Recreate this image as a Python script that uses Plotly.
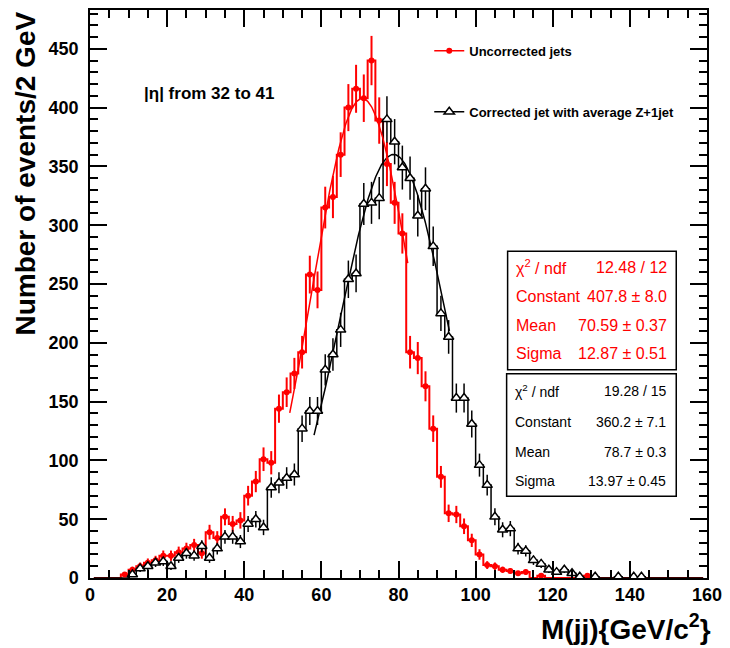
import numpy as np
import plotly.graph_objects as go

# Dijet invariant mass, 2 GeV bins from 0 to 160 GeV (values at bin centres)
bin_width = 2.0
mjj_centres = np.arange(1, 160, 2)

uncorrected_counts = [
    0, 0, 0, 0, 3,
    7, 10, 13, 15, 19,
    19, 22, 25, 28, 21,
    39, 34, 52, 46, 49,
    70, 82, 101, 98, 144,
    158, 174, 192, 258, 245,
    315, 324, 360, 400, 416,
    408, 440, 389, 352, 319,
    293, 192, 187, 163, 127,
    86, 55, 54, 44, 32,
    20, 11, 10, 7, 6,
    4, 5, 0, 2, 0,
    0, 0, 0, 0, 2,
    0, 0, 0, 0, 0,
    0, 0, 0, 0, 0,
    0, 0, 0, 0, 0,
]

corrected_counts = [
    0, 0, 0, 0, 0,
    3, 8, 10, 13, 14,
    10, 17, 21, 19, 27,
    17, 25, 35, 35, 31,
    46, 50, 43, 77, 81,
    85, 88, 127, 142, 142,
    177, 190, 211, 254, 259,
    318, 319, 323, 390, 371,
    349, 340, 308, 331, 282,
    225, 205, 153, 153, 131,
    96, 79, 52, 41, 42,
    25, 23, 15, 12, 7,
    5, 7, 4, 1, 0,
    1, 0, 0, 1, 0,
    1, 1, 0, 0, 0,
    0, 0, 0, 0, 0,
]

# Gaussian fit results (constant, mean, sigma) and fitted ranges
uncorrected_fit = {"constant": 407.8, "mean": 70.59, "sigma": 12.87, "range": (51.8, 82.4)}
corrected_fit = {"constant": 360.2, "mean": 78.7, "sigma": 13.97, "range": (58.1, 93.2)}

uncorrected_stats = [("χ<sup>2</sup> / ndf", "12.48 / 12"),
                     ("Constant", "407.8 ± 8.0"),
                     ("Mean", "70.59 ± 0.37"),
                     ("Sigma", "12.87 ± 0.51")]
corrected_stats = [("χ<sup>2</sup> / ndf", "19.28 / 15"),
                   ("Constant", "360.2 ± 7.1"),
                   ("Mean", "78.7 ± 0.3"),
                   ("Sigma", "13.97 ± 0.45")]

RED = "#ff0000"
BLACK = "#000000"
FONT = "Liberation Sans, Arial, Helvetica, sans-serif"

# frame geometry in pixels
W, H = 730, 648
ML, MR, MT, MB = 90, 18, 8, 70
PW, PH = W - ML - MR, H - MT - MB


def px_x(p):
    return (p - ML) / PW


def px_y(p):
    return (H - MB - p) / PH


def gauss_curve(fit):
    x = np.linspace(fit["range"][0], fit["range"][1], 200)
    y = fit["constant"] * np.exp(-0.5 * ((x - fit["mean"]) / fit["sigma"]) ** 2)
    return x, y


fig = go.Figure()

u = np.asarray(uncorrected_counts, dtype=float)
c = np.asarray(corrected_counts, dtype=float)

# histogram outlines
for counts, colour, lw in ((u, RED, 2), (c, BLACK, 1.5)):
    fig.add_trace(go.Scatter(x=mjj_centres, y=counts, mode="lines",
                             line=dict(color=colour, width=lw, shape="hvh"),
                             showlegend=False, hoverinfo="skip"))

# Gaussian fits
for fit, colour in ((uncorrected_fit, RED), (corrected_fit, BLACK)):
    fx, fy = gauss_curve(fit)
    fig.add_trace(go.Scatter(x=fx, y=fy, mode="lines", line=dict(color=colour, width=1.5),
                             showlegend=False, hoverinfo="skip"))

# points with Poisson errors (non-empty bins only)
mu = u > 0
fig.add_trace(go.Scatter(x=mjj_centres[mu], y=u[mu], mode="markers",
                         marker=dict(symbol="circle", size=6, color=RED),
                         error_y=dict(type="data", array=np.sqrt(u[mu]), width=0,
                                      thickness=2, color=RED),
                         showlegend=False))
mc = c > 0
fig.add_trace(go.Scatter(x=mjj_centres[mc], y=c[mc], mode="markers",
                         marker=dict(symbol="triangle-up", size=9, color="white",
                                     line=dict(color=BLACK, width=1.5)),
                         error_y=dict(type="data", array=np.sqrt(c[mc]), width=0,
                                      thickness=1.5, color=BLACK),
                         showlegend=False))

# legend entries
fig.add_trace(go.Scatter(x=[None], y=[None], mode="lines+markers", name="Uncorrected jets",
                         line=dict(color=RED, width=1.5),
                         marker=dict(symbol="circle", size=6, color=RED),
                         legendgroup="u"))
fig.add_trace(go.Scatter(x=[None], y=[None], mode="lines+markers",
                         name="Corrected jet with average Z+1jet",
                         line=dict(color=BLACK, width=1.5),
                         marker=dict(symbol="triangle-up", size=9, color="white",
                                     line=dict(color=BLACK, width=1.5)),
                         legendgroup="c"))

axis_common = dict(showline=True, linecolor=BLACK, linewidth=1.5, mirror="ticks",
                   ticks="inside", ticklen=17, tickwidth=1.5, tickcolor=BLACK,
                   showgrid=False, zeroline=False,
                   tickfont=dict(family=FONT, size=18, color=BLACK, weight="bold"))

fig.update_xaxes(range=[0, 160], dtick=20, tick0=0,
                 minor=dict(dtick=5, ticks="inside", ticklen=8, tickwidth=1.5,
                            tickcolor=BLACK, showgrid=False),
                 ticklabelstandoff=0, **axis_common)
fig.update_yaxes(range=[0, 483], dtick=50, tick0=0,
                 minor=dict(dtick=10, ticks="inside", ticklen=8, tickwidth=1.5,
                            tickcolor=BLACK, showgrid=False),
                 ticklabelstandoff=6, **axis_common)

annotations = [
    dict(text="<b>Number of events/2 GeV</b>", textangle=-90, x=px_x(24), y=px_y(8),
         xanchor="center", yanchor="top", font=dict(family=FONT, size=28, color=BLACK)),
    dict(text="<b>M(jj){GeV/c<sup>2</sup>}</b>", x=px_x(718), y=px_y(627),
         xanchor="right", yanchor="middle", font=dict(family=FONT, size=28, color=BLACK)),
    dict(text="<b>|η| from 32 to 41</b>", x=px_x(142), y=px_y(92),
         xanchor="left", yanchor="middle", font=dict(family=FONT, size=17, color=BLACK)),
]

shapes = []


def stats_box(rows, colour, x0, x1, y0, y1, row_y, size, value_right):
    shapes.append(dict(type="rect", xref="paper", yref="paper",
                       x0=px_x(x0), x1=px_x(x1), y0=px_y(y1), y1=px_y(y0),
                       line=dict(color=BLACK, width=1.5), fillcolor="white", layer="above"))
    for (label, value), yy in zip(rows, row_y):
        annotations.append(dict(text=label, x=px_x(x0 + 6), y=px_y(yy), xanchor="left",
                                yanchor="middle", showarrow=False,
                                font=dict(family=FONT, size=size, color=colour)))
        annotations.append(dict(text=value, x=px_x(value_right), y=px_y(yy), xanchor="right",
                                yanchor="middle", showarrow=False,
                                font=dict(family=FONT, size=size, color=colour)))


stats_box(uncorrected_stats, RED, 511, 681, 250, 369, [266, 296, 325, 353], 16, 674)
stats_box(corrected_stats, BLACK, 510, 681, 373, 496, [390, 421, 452, 481], 14, 673)

for a in annotations:
    a.setdefault("xref", "paper")
    a.setdefault("yref", "paper")
    a.setdefault("showarrow", False)

fig.update_layout(
    width=W, height=H,
    margin=dict(l=ML, r=MR, t=MT, b=MB),
    paper_bgcolor="white", plot_bgcolor="white",
    font=dict(family=FONT, color=BLACK),
    annotations=annotations, shapes=shapes,
    showlegend=True,
    legend=dict(x=px_x(432), y=px_y(34), xanchor="left", yanchor="top",
                bgcolor="rgba(0,0,0,0)", borderwidth=0, tracegroupgap=41,
                font=dict(family=FONT, size=13, color=BLACK, weight="bold")),
)

fig.write_html("out.html")
